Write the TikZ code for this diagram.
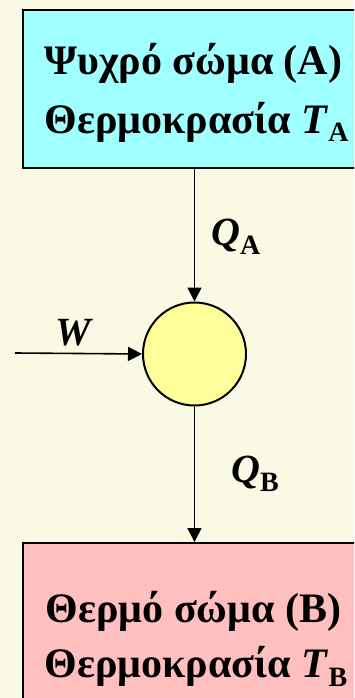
\documentclass[tikz,border=0pt]{standalone}
\usepackage{fontspec}
\setmainfont{Liberation Serif}
\usetikzlibrary{arrows.meta}
\definecolor{bgc}{HTML}{FAFAE4}
\definecolor{cyanbox}{HTML}{A0FFFF}
\definecolor{pinkbox}{HTML}{FFBFBF}
\definecolor{yellowc}{HTML}{FFFF99}
\tikzset{
  body/.style={draw=black, line width=2pt, rectangle, minimum width=347pt},
  btext/.style={font=\fontsize{42}{42}\selectfont\bfseries, inner sep=0pt, anchor=base},
  lbl/.style={font=\fontsize{40}{40}\selectfont\bfseries\itshape, inner sep=0pt, anchor=base west},
  flow/.style={line width=1.6pt, -{Triangle[length=14pt,width=14pt]}},
  engine/.style={circle, draw=black, line width=2pt, fill=yellowc, minimum size=103pt, inner sep=0pt}
}
\newcommand{\subA}{\raisebox{-9pt}{\fontsize{28}{28}\selectfont\upshape\bfseries A}}
\newcommand{\subB}{\raisebox{-9pt}{\fontsize{28}{28}\selectfont\upshape\bfseries B}}
\begin{document}
\begin{tikzpicture}[x=1pt,y=-1pt]
\clip (0,0) rectangle (354,698);
\fill[bgc] (0,0) rectangle (354,698);
\node[body, fill=cyanbox, minimum height=158pt] (A) at (196.5,89) {};
\node[btext] (A1) at (193.5,75) {Ψυχρό σώμα (A)};
\node[btext] (A2) at (196.5,133) {Θερμοκρασία \textit{T}\subA};
\node[engine] (C) at (194.5,354) {};
\node[body, fill=pinkbox, minimum height=170pt] (B) at (196.5,628) {};
\node[btext] (B1) at (193.5,622) {Θερμό σώμα (B)};
\node[btext] (B2) at (196,677) {Θερμοκρασία \textit{T}\subB};
\coordinate (Wstart) at (15,353);
\draw[flow] (A.south -| C.north) -- (C.north);
\draw[flow] (C.south) -- (B.north -| C.south);
\draw[flow] (Wstart) -- (C.west);
\node[lbl] (W) at (55,345) {W};
\node[lbl] (QA) at (211,245) {Q\subA};
\node[lbl] (QB) at (231,482) {Q\subB};
\end{tikzpicture}
\end{document}
